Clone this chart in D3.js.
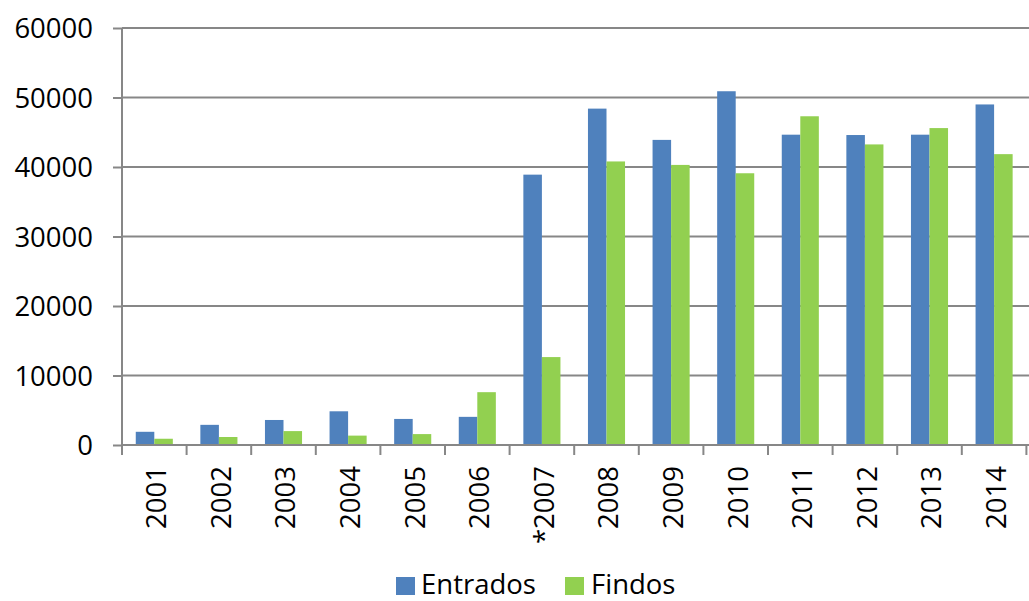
<!DOCTYPE html>
<html>
<head>
<meta charset="utf-8">
<script src="https://cdn.jsdelivr.net/npm/d3@7"></script>
<style>
  html, body { margin: 0; padding: 0; background: #fff; overflow: hidden; }
  text { font-family: "Open Sans", sans-serif; fill: #000; }
</style>
</head>
<body>
<svg id="chart" width="1029" height="601"></svg>
<script>
const years = ["2001","2002","2003","2004","2005","2006","*2007","2008","2009","2010","2011","2012","2013","2014"];
const seriesNames = ["Entrados", "Findos"];
const entrados = [1900, 2900, 3600, 4850, 3750, 4050, 38900, 48400, 43900, 50900, 44650, 44600, 44650, 49000];
const findos = [900, 1150, 2000, 1350, 1570, 7600, 12650, 40800, 40300, 39100, 47300, 43250, 45600, 41850];
const yTicks = [0, 10000, 20000, 30000, 40000, 50000, 60000];
const colors = ["#4F81BD", "#92D050"];

const svg = d3.select("#chart");
const mLeft = 122, mRight = 1026.4, mTop = 28, mBottom = 445;
const gridColor = "#878787";

const x = d3.scaleBand().domain(years).range([mLeft, mRight]).padding(0);
const y = d3.scaleLinear().domain([0, 60000]).range([mBottom, mTop]);
const bw = x.bandwidth();
const x1 = d3.scaleBand().domain(seriesNames).range([bw * 0.213, bw * 0.787]).padding(0);

// gridlines
svg.append("g").selectAll("line").data(yTicks.filter(d => d > 0)).join("line")
  .attr("x1", mLeft).attr("x2", 1029)
  .attr("y1", d => y(d)).attr("y2", d => y(d))
  .attr("stroke", gridColor).attr("stroke-width", 2);

// y axis
const yAxis = d3.axisLeft(y).tickValues(yTicks).tickSize(9).tickPadding(20).tickFormat(d3.format("d"));
const gy = svg.append("g").attr("transform", `translate(${mLeft},0)`).call(yAxis);
gy.select(".domain").remove();
gy.selectAll(".tick line").attr("stroke", gridColor).attr("stroke-width", 2);
gy.selectAll(".tick text").attr("font-size", 27.5).attr("font-family", "Open Sans").attr("fill", "#000").attr("dy", "0.35em");
svg.append("line").attr("x1", mLeft).attr("x2", mLeft).attr("y1", mTop).attr("y2", mBottom + 9)
  .attr("stroke", gridColor).attr("stroke-width", 2);

// bars
const groups = svg.append("g").selectAll("g").data(years).join("g")
  .attr("transform", d => `translate(${x(d)},0)`);
groups.selectAll("rect").data((d, i) => [entrados[i], findos[i]].map((v, j) => ({s: seriesNames[j], v, j})))
  .join("rect")
  .attr("x", d => x1(d.s)).attr("width", x1.bandwidth())
  .attr("y", d => y(d.v)).attr("height", d => y(0) - y(d.v))
  .attr("fill", d => colors[d.j]);

// x axis baseline + ticks at band boundaries
svg.append("line").attr("x1", mLeft).attr("x2", 1029).attr("y1", mBottom).attr("y2", mBottom)
  .attr("stroke", gridColor).attr("stroke-width", 2);
const bounds = years.map(d => x(d)).concat([x(years[years.length-1]) + bw]);
svg.append("g").selectAll("line").data(bounds).join("line")
  .attr("x1", d => d).attr("x2", d => d).attr("y1", mBottom).attr("y2", mBottom + 10)
  .attr("stroke", gridColor).attr("stroke-width", 2);

// x labels rotated
svg.append("g").selectAll("text").data(years).join("text")
  .attr("transform", d => `translate(${x(d) + bw / 2 + 2},466) rotate(-90)`)
  .attr("text-anchor", "end").attr("dy", "0.36em")
  .attr("font-size", 27.5)
  .text(d => d);

// legend
const legend = [{name: "Entrados", sx: 396, tx: 421}, {name: "Findos", sx: 565, tx: 591}];
const lg = svg.append("g");
legend.forEach((l, i) => {
  lg.append("rect").attr("x", l.sx).attr("y", 577).attr("width", 19).attr("height", 18).attr("fill", colors[i]);
  lg.append("text").attr("x", l.tx).attr("y", 594).attr("font-size", 27.5).text(l.name);
});
</script>
</body>
</html>
